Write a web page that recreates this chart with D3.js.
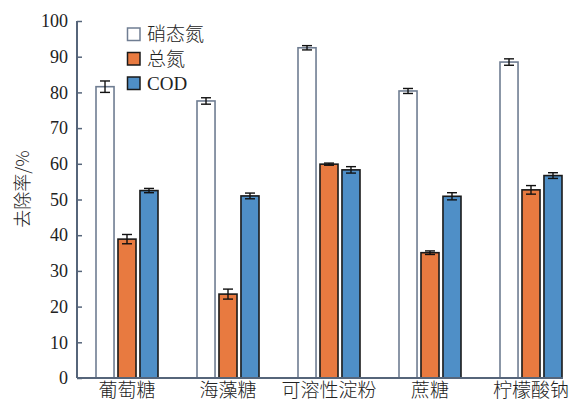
<!DOCTYPE html>
<html>
<head>
<meta charset="utf-8">
<script src="https://cdn.jsdelivr.net/npm/d3@7"></script>
<style>
  html, body { margin: 0; padding: 0; background: #fff; }
  svg { display: block; }
  text { font-family: "Liberation Serif", "Noto Sans CJK SC", serif; fill: #222; }
  .cjk { font-family: "Noto Sans CJK SC", sans-serif; font-weight: 300; }
</style>
</head>
<body>
<svg id="chart" width="577" height="406"></svg>
<script>
// Carbon sources
const categories = ["葡萄糖", "海藻糖", "可溶性淀粉", "蔗糖", "柠檬酸钠"];
// Series names
const seriesNames = ["硝态氮", "总氮", "COD"];
// Removal rates (%) per series, one value per carbon source
const nitrateValues = [81.6, 77.6, 92.5, 80.4, 88.5];
const totalNValues  = [38.9, 23.5, 59.9, 35.1, 52.7];
const codValues     = [52.5, 51.0, 58.3, 50.9, 56.7];
// Standard deviations
const nitrateErr = [1.6, 0.9, 0.6, 0.7, 0.9];
const totalNErr  = [1.3, 1.4, 0.3, 0.5, 1.2];
const codErr     = [0.6, 0.8, 0.9, 1.0, 0.8];
// Y axis ticks
const yTicks = [0, 10, 20, 30, 40, 50, 60, 70, 80, 90, 100];

const series = [
  { name: seriesNames[0], values: nitrateValues, errs: nitrateErr, fill: "#ffffff", stroke: "#6f7d92" },
  { name: seriesNames[1], values: totalNValues,  errs: totalNErr,  fill: "#e87a40", stroke: "#1a1a1a" },
  { name: seriesNames[2], values: codValues,     errs: codErr,     fill: "#4f8fc7", stroke: "#1a1a1a" }
];

const svg = d3.select("#chart");
const axisColor = "#56657a";
const plotLeft = 77, plotBottom = 378, plotTop = 21;

const x = d3.scaleBand().domain(categories).range([plotLeft, plotLeft + 101 * categories.length]).padding(0);
const y = d3.scaleLinear().domain([0, 100]).range([plotBottom, plotTop]);
const inner = d3.scaleBand().domain(seriesNames).range([19, 81]).paddingInner(0.18);
const bw = inner.bandwidth();

// Bars
series.forEach(s => {
  const g = svg.append("g");
  g.selectAll("rect").data(categories).join("rect")
    .attr("x", (c) => x(c) + inner(s.name))
    .attr("y", (c, i) => y(s.values[i]))
    .attr("width", bw)
    .attr("height", (c, i) => y(0) - y(s.values[i]))
    .attr("fill", s.fill)
    .attr("stroke", s.stroke)
    .attr("stroke-width", 1.6);
  // Error bars
  categories.forEach((c, i) => {
    const cx = x(c) + inner(s.name) + bw / 2;
    const hi = y(s.values[i] + s.errs[i]);
    const lo = y(s.values[i] - s.errs[i]);
    const eg = svg.append("g").attr("stroke", "#111").attr("stroke-width", 1.4);
    eg.append("line").attr("x1", cx).attr("x2", cx).attr("y1", hi).attr("y2", lo);
    eg.append("line").attr("x1", cx - 5).attr("x2", cx + 5).attr("y1", hi).attr("y2", hi);
    eg.append("line").attr("x1", cx - 5).attr("x2", cx + 5).attr("y1", lo).attr("y2", lo);
  });
});

// Y axis
const yAxis = d3.axisLeft(y).tickValues(yTicks).tickSize(-5).tickPadding(9);
const yg = svg.append("g").attr("transform", `translate(${plotLeft},0)`).call(yAxis);
yg.select(".domain").attr("stroke", axisColor).attr("stroke-width", 2).attr("d", `M0,${plotBottom}V${plotTop}`);
yg.selectAll(".tick line").attr("stroke", axisColor).attr("stroke-width", 1.5);
yg.selectAll(".tick text").attr("font-size", 18).attr("font-family", "Liberation Serif").attr("fill", "#222");

// X axis line up to the end of the last bar
const lastCat = categories[categories.length - 1];
const xEnd = x(lastCat) + inner(seriesNames[2]) + bw + 1;
svg.append("line")
  .attr("x1", plotLeft).attr("x2", xEnd).attr("y1", plotBottom).attr("y2", plotBottom)
  .attr("stroke", axisColor).attr("stroke-width", 2);

// Category labels
svg.append("g").selectAll("text").data(categories).join("text")
  .attr("class", "cjk")
  .attr("x", c => x(c) + inner(seriesNames[1]) + bw / 2)
  .attr("y", 397)
  .attr("text-anchor", "middle")
  .attr("font-size", 19)
  .text(c => c);

// Y axis title
svg.append("text")
  .attr("class", "cjk")
  .attr("transform", "translate(29,189) rotate(-90)")
  .attr("text-anchor", "middle")
  .attr("font-size", 18)
  .text("去除率/%");

// Legend
const lg = svg.append("g").attr("transform", "translate(127,28)");
series.forEach((s, i) => {
  const row = lg.append("g").attr("transform", `translate(0,${i * 24.5})`);
  row.append("rect").attr("x", 0.5).attr("y", 0).attr("width", 12.5).attr("height", 12.5)
    .attr("fill", s.fill).attr("stroke", s.stroke).attr("stroke-width", 1.5);
  row.append("text")
    .attr("class", i < 2 ? "cjk" : null)
    .attr("x", 20).attr("y", 13)
    .attr("font-size", 19)
    .text(s.name);
});
</script>
</body>
</html>
